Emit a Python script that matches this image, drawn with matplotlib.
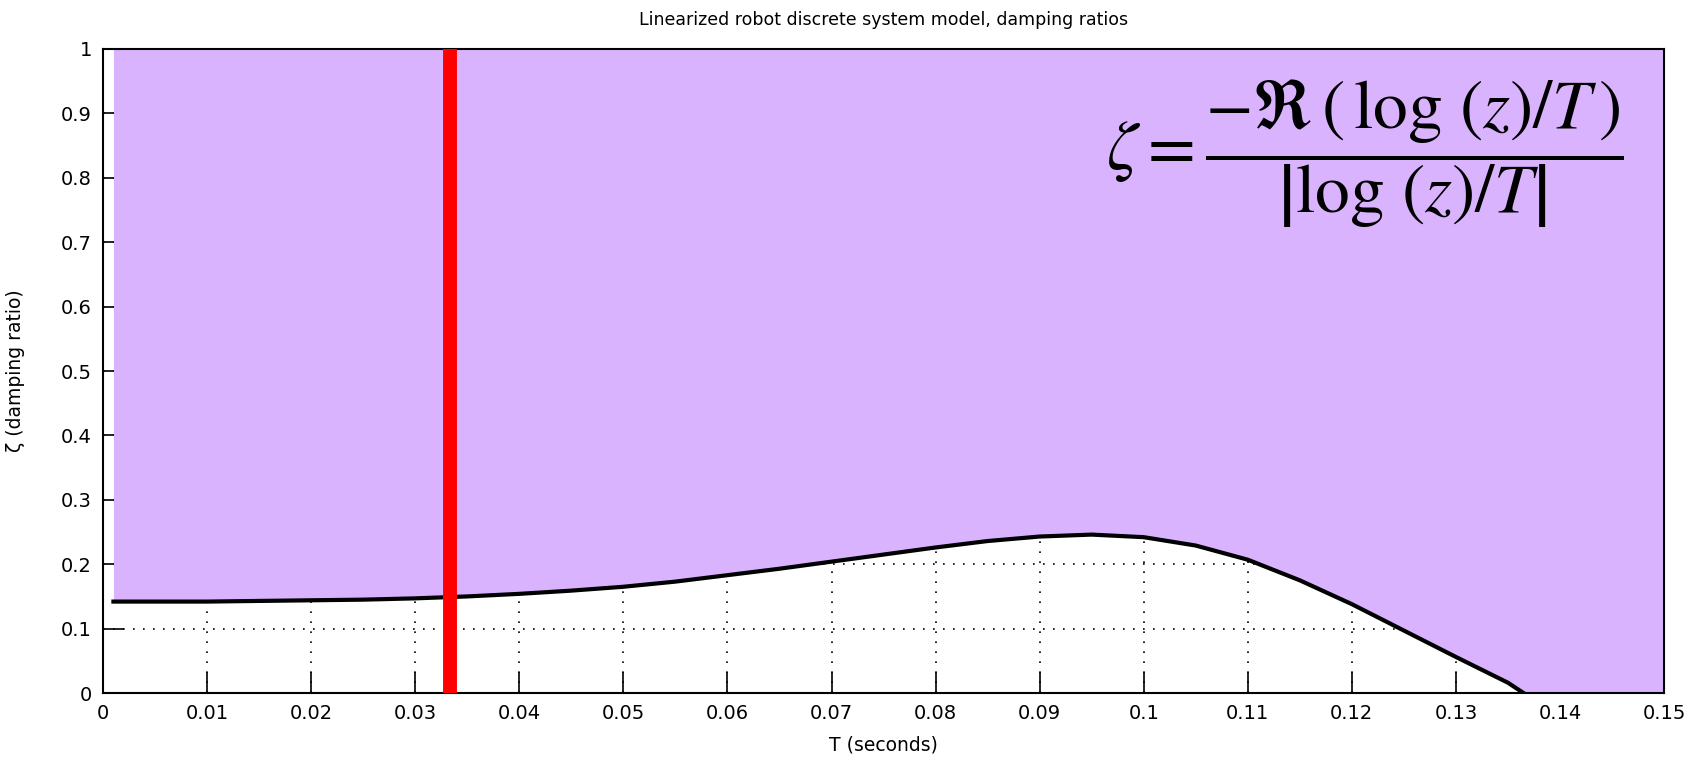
import numpy as np
import matplotlib.pyplot as plt

# sample period T (s) and the damping ratio of the linearized discrete model
T = [0.001, 0.005, 0.01, 0.015, 0.02, 0.025, 0.03, 0.035, 0.04, 0.045,
     0.05, 0.055, 0.06, 0.065, 0.07, 0.075, 0.08, 0.085, 0.09, 0.095,
     0.1, 0.105, 0.11, 0.115, 0.12, 0.125, 0.13, 0.135, 0.1365]
zeta = [0.142, 0.142, 0.142, 0.143, 0.144, 0.145, 0.147, 0.150, 0.154, 0.159,
        0.165, 0.173, 0.183, 0.193, 0.204, 0.215, 0.226, 0.236, 0.243, 0.246,
        0.242, 0.229, 0.207, 0.175, 0.138, 0.097, 0.056, 0.016, 0.0]
T_chosen = 0.0333
T_max = 0.15

xticks = np.arange(0, 0.1501, 0.01)
xlabels = ['0', '0.01', '0.02', '0.03', '0.04', '0.05', '0.06', '0.07',
           '0.08', '0.09', '0.1', '0.11', '0.12', '0.13', '0.14', '0.15']
yticks = np.arange(0, 1.001, 0.1)
ylabels = ['0', '0.1', '0.2', '0.3', '0.4', '0.5', '0.6', '0.7', '0.8', '0.9', '1']

purple = '#dab3fe'

plt.rcParams['mathtext.fontset'] = 'stix'

fig = plt.figure(figsize=(16.97, 7.63), dpi=100)
ax = fig.add_axes([0.0607, 0.0917, 0.9199, 0.8441])

# region above the curve, continued past the zero crossing up to T_max
Tf = np.array(T + [T_max])
zf = np.array(zeta + [0.0])
ax.fill_between(Tf, zf, 1.0, color=purple, linewidth=0, zorder=1)
ax.plot(T, zeta, color='black', linewidth=3, zorder=2)
ax.axvline(T_chosen, color='red', linewidth=10, zorder=3)

ax.set_xlim(0, T_max)
ax.set_ylim(0, 1)
ax.set_xticks(xticks)
ax.set_xticklabels(xlabels)
ax.set_yticks(yticks)
ax.set_yticklabels(ylabels)
ax.set_axisbelow(True)
ax.grid(True, color='black', linestyle=(0, (1, 5)), linewidth=1.2)
ax.tick_params(direction='in', length=15, width=1.2, labelsize=14, pad=8,
               top=True, right=True)
for s in ax.spines.values():
    s.set_linewidth(1.5)

ax.set_title('Linearized robot discrete system model, damping ratios',
             fontsize=12.5, pad=17)
ax.set_xlabel('T (seconds)', fontsize=13.5, labelpad=9)
ax.set_ylabel('ζ (damping ratio)', fontsize=13.5, labelpad=26)

ax.text(0.974, 0.837,
        r'$\zeta = \dfrac{-\Re\,\left(\,\log\,(z)/T\,\right)}{\left|\log\,(z)/T\right|}$',
        transform=ax.transAxes, fontsize=50, ha='right', va='center')

fig.savefig('out.png', dpi=100)
